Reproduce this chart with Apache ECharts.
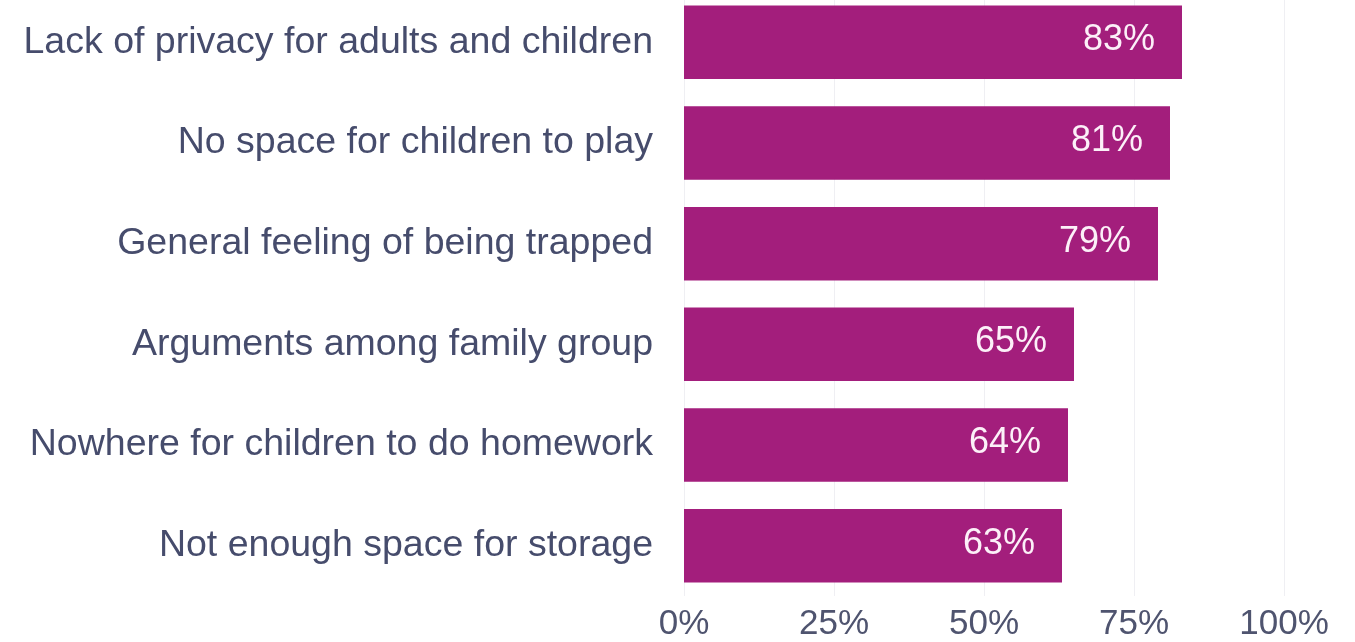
<!DOCTYPE html>
<html>
<head>
<meta charset="utf-8">
<script src="https://cdn.jsdelivr.net/npm/echarts@6/dist/echarts.min.js"></script>
<style>
  html, body { margin: 0; padding: 0; background: #ffffff; overflow: hidden; }
  #chart { position: absolute; left: 0; top: -8px; width: 1355px; height: 650px; }
</style>
</head>
<body>
<div id="chart"></div>
<script>
// Reasons reported as problems of overcrowded housing (share of respondents)
const categories = [
  'Lack of privacy for adults and children',
  'No space for children to play',
  'General feeling of being trapped',
  'Arguments among family group',
  'Nowhere for children to do homework',
  'Not enough space for storage'
];
const shares = [83, 81, 79, 65, 64, 63];
const tickValues = [0, 25, 50, 75, 100];

const textColor = '#464c6c';
const barColor = '#a31e7c';
const fontFamily = '"Liberation Sans", Arial, sans-serif';

const chart = echarts.init(document.getElementById('chart'), null, { width: 1355, height: 650 });
chart.setOption({
  animation: false,
  backgroundColor: '#ffffff',
  grid: { left: 684, right: 71, top: 0, bottom: 45, containLabel: false },
  xAxis: {
    type: 'value',
    min: tickValues[0],
    max: tickValues[tickValues.length - 1],
    interval: 25,
    axisLine: { show: false },
    axisTick: { show: false },
    axisLabel: {
      color: '#4f546f',
      fontSize: 35,
      fontFamily: fontFamily,
      margin: 11,
      formatter: v => v + '%'
    },
    splitLine: { show: true, lineStyle: { color: '#efeff3', width: 1 } }
  },
  yAxis: {
    type: 'category',
    inverse: true,
    data: categories,
    axisLine: { show: false },
    axisTick: { show: false },
    axisLabel: {
      color: textColor,
      fontSize: 37.5,
      fontFamily: fontFamily,
      margin: 31
    }
  },
  series: [{
    type: 'bar',
    data: shares,
    barCategoryGap: '27%',
    itemStyle: { color: barColor },
    label: {
      show: true,
      position: 'insideRight',
      distance: 27,
      offset: [0, -2],
      color: '#fcf0f8',
      fontSize: 36,
      fontFamily: fontFamily,
      formatter: p => p.value + '%'
    }
  }]
});
</script>
</body>
</html>
